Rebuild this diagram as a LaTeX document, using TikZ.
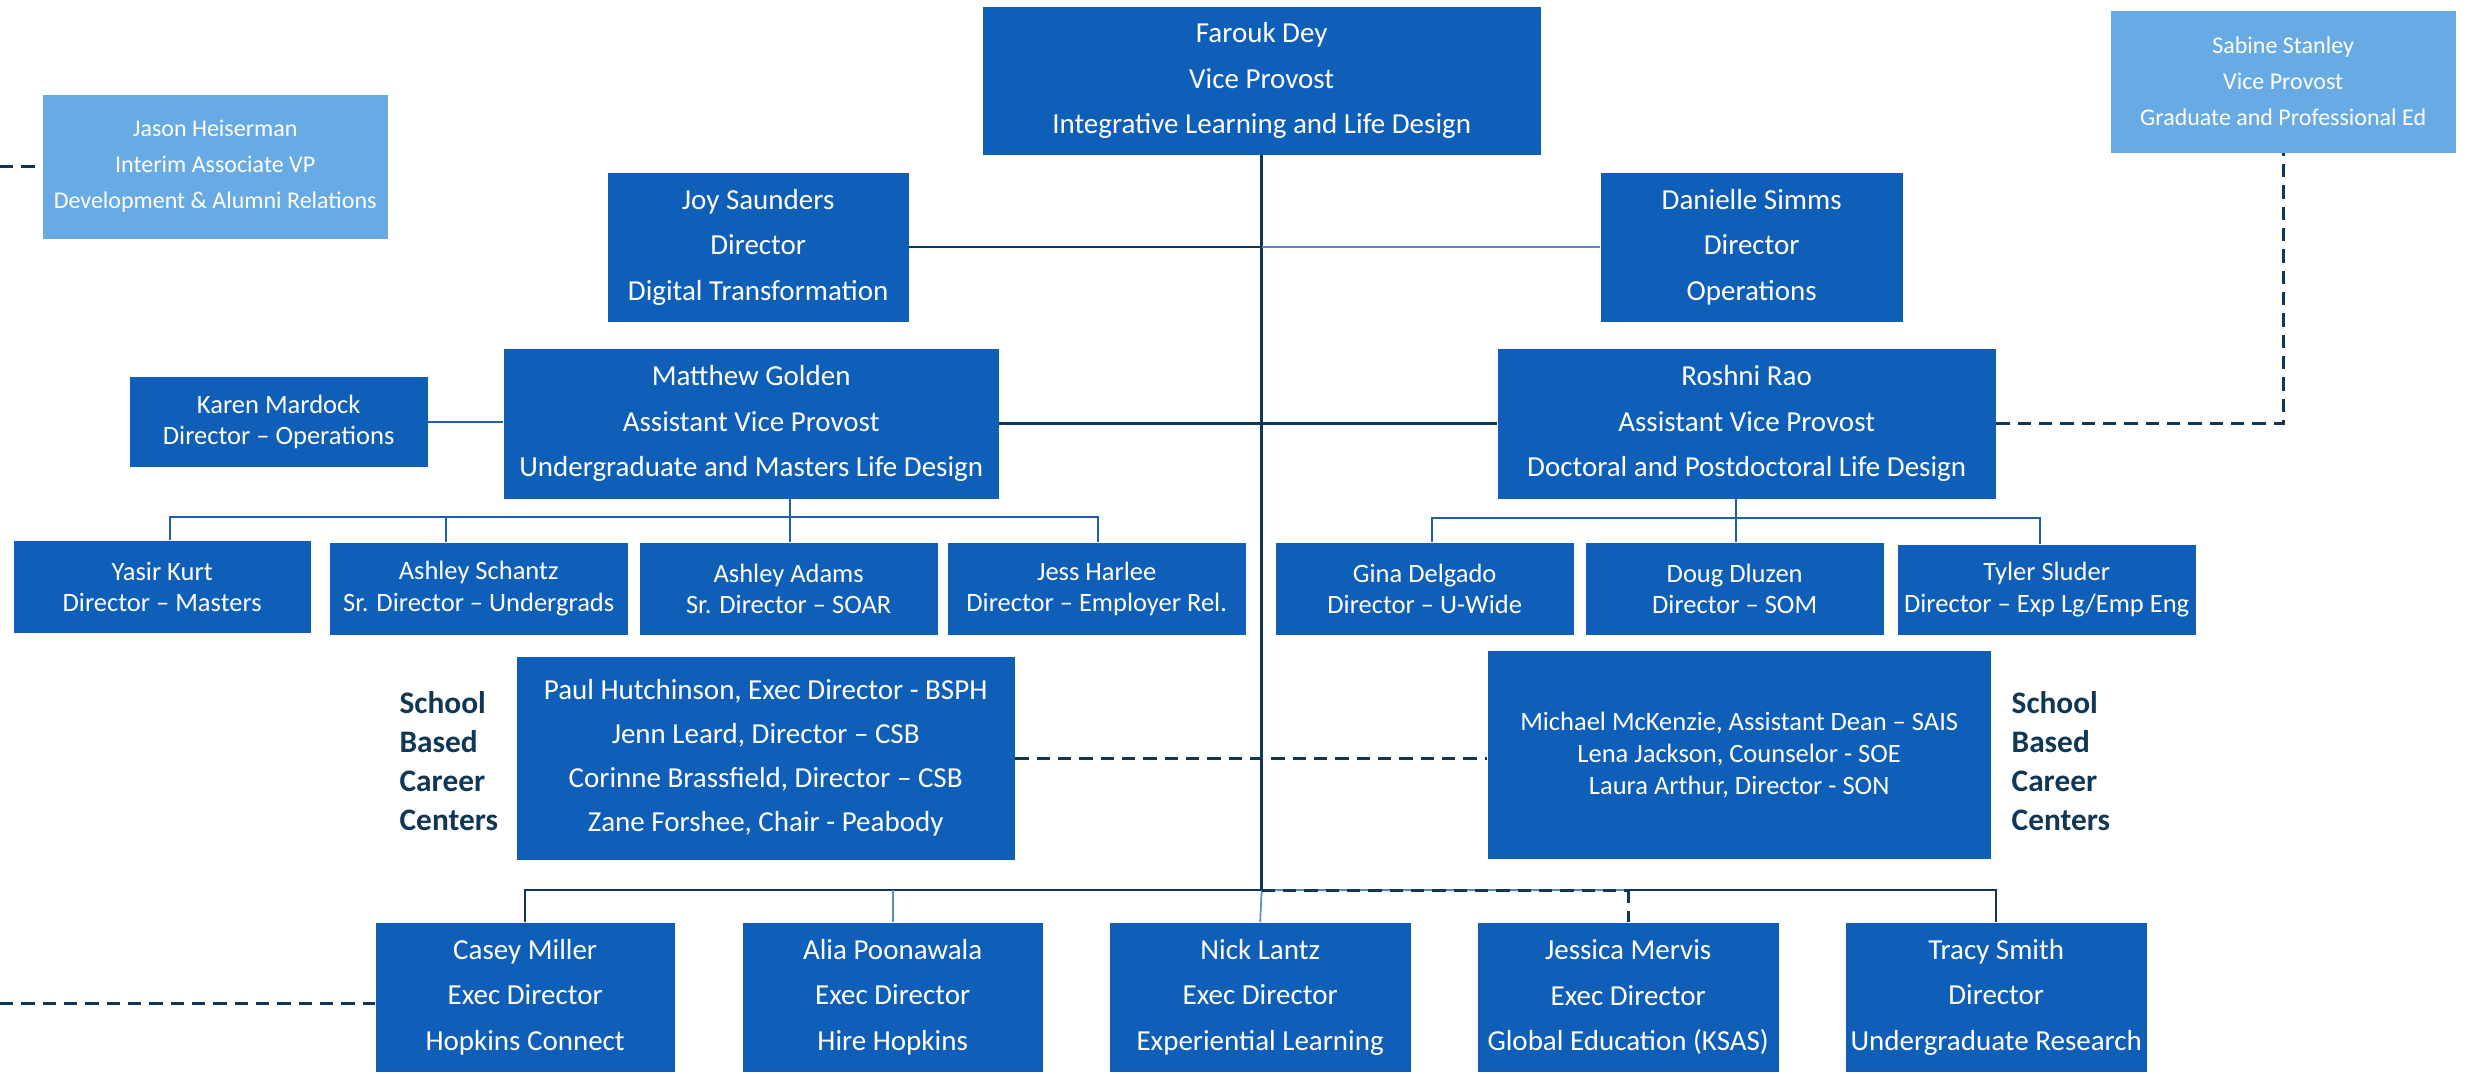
\documentclass[tikz,border=0pt]{standalone}
\usepackage{fontspec}
\setmainfont{Carlito}
\definecolor{boxblue}{RGB}{15,94,184}
\definecolor{lightblue}{RGB}{104,171,228}
\definecolor{navy}{RGB}{13,56,88}
\definecolor{bracketblue}{RGB}{31,95,175}
\definecolor{steel}{RGB}{84,140,196}
\definecolor{labelnavy}{RGB}{16,55,85}
\begin{document}
\begin{tikzpicture}[x=0.3pt,y=-0.3pt,
  box/.style={fill=boxblue,text=white,inner sep=0pt,align=center,anchor=north west},
  lightbox/.style={box,fill=lightblue},
  sz/.style 2 args={minimum width=#1*0.3pt,minimum height=#2*0.3pt},
  fA/.style={font=\fontsize{8.7}{13.6}\selectfont,execute at begin node={\rule{0pt}{8.4pt}}},
  fL/.style={font=\fontsize{8.7}{13.2}\selectfont,execute at begin node={\rule{0pt}{8.2pt}}},
  fB/.style={font=\fontsize{7.95}{9.4}\selectfont},
  fR/.style={font=\fontsize{7.95}{9.6}\selectfont},
  fC/.style={font=\fontsize{7.2}{10.8}\selectfont},
  lbl/.style={font=\fontsize{9.4}{11.7}\selectfont\bfseries,text=labelnavy,align=left,anchor=west,inner sep=0pt},
  main/.style={draw=navy,line width=0.75pt},
  br/.style={draw=bracketblue,line width=0.65pt},
  thinblue/.style={draw=steel,line width=0.5pt},
  dsh/.style={draw=navy,line width=0.9pt,dash pattern=on 4pt off 2.4pt}
]
\useasboundingbox (0,0) rectangle (2471,1074);

% top level
\node[box,fA,sz={558}{148}] (farouk) at (982,6) {Farouk Dey\\Vice Provost\\Integrative Learning and Life Design};
\node[lightbox,fC,sz={345}{142}] (sabine) at (2110,10) {Sabine Stanley\\Vice Provost\\Graduate and Professional Ed};
\node[lightbox,fC,sz={345}{144}] (jason) at (42,94) {Jason Heiserman\\Interim Associate VP\\Development \& Alumni Relations};
\node[box,fA,sz={301}{149}] (joy) at (607,172) {Joy Saunders\\Director\\Digital Transformation};
\node[box,fA,sz={302}{149}] (danielle) at (1600,172) {Danielle Simms\\Director\\Operations};
\node[box,fA,sz={495}{150}] (matthew) at (503,348) {Matthew Golden\\Assistant Vice Provost\\Undergraduate and Masters Life Design};
\node[box,fA,sz={498}{150}] (roshni) at (1497,348) {Roshni Rao\\Assistant Vice Provost\\Doctoral and Postdoctoral Life Design};
\node[box,fB,sz={298}{90}] (karen) at (129,376) {Karen Mardock\\Director – Operations};

% third row
\node[box,fB,sz={297}{92}] (yasir) at (13,540) {Yasir Kurt\\Director – Masters};
\node[box,fB,sz={298}{92}] (schantz) at (329,542) {Ashley Schantz\\Sr. Director – Undergrads};
\node[box,fB,sz={298}{92}] (adams) at (639,542) {Ashley Adams\\Sr. Director – SOAR};
\node[box,fB,sz={298}{92}] (harlee) at (947,542) {Jess Harlee\\Director – Employer Rel.};
\node[box,fB,sz={298}{92}] (gina) at (1275,542) {Gina Delgado\\Director – U-Wide};
\node[box,fB,sz={298}{92}] (doug) at (1585,542) {Doug Dluzen\\Director – SOM};
\node[box,fB,sz={298}{90}] (tyler) at (1897,544) {Tyler Sluder\\Director – Exp Lg/Emp Eng};

% school based
\node[box,fL,sz={498}{203}] (lsc) at (516,656) {Paul Hutchinson, Exec Director - BSPH\\Jenn Leard, Director – CSB\\Corinne Brassfield, Director – CSB\\Zane Forshee, Chair - Peabody};
\node[box,fR,sz={503}{208}] (rsc) at (1487,650) {Michael McKenzie, Assistant Dean – SAIS\\Lena Jackson, Counselor - SOE\\Laura Arthur, Director - SON};
\node[lbl] (llbl) at (399,761) {School\\Based\\Career\\Centers};
\node[lbl] (rlbl) at (2011,761) {School\\Based\\Career\\Centers};

% bottom row
\node[box,fA,sz={299}{149}] (casey) at (375,922) {Casey Miller\\Exec Director\\Hopkins Connect};
\node[box,fA,sz={300}{149}] (alia) at (742,922) {Alia Poonawala\\Exec Director\\Hire Hopkins};
\node[box,fA,sz={301}{149}] (nick) at (1109,922) {Nick Lantz\\Exec Director\\Experiential Learning};
\node[box,fA,sz={301}{149}] (jessica) at (1477,922) {Jessica Mervis\\Exec Director\\Global Education (KSAS)};
\node[box,fA,sz={301}{149}] (tracy) at (1845,922) {Tracy Smith\\Director\\Undergraduate Research};

% coordinates
\coordinate (bbL) at (524,890);
\coordinate (bbV) at (farouk.south |- bbL);
\coordinate (mb) at (790,517);
\coordinate (mbL) at (170,517);
\coordinate (mbR) at (1098,517);
\coordinate (mbS) at (446,517);
\coordinate (rb) at (1736,518);
\coordinate (rbL) at (1432,518);
\coordinate (rbR) at (2040,518);
\coordinate (jl) at (0,166);
\coordinate (cl) at (0,1003);

% main spine
\draw[main] (farouk.south) -- (bbV);
\draw[thinblue] (bbV) -- (nick.north);
\draw[main] (joy.east) -- (joy.east -| bbV);
\draw[steel,line width=0.75pt] (joy.east -| bbV) -- (danielle.west);
\draw[main] (matthew.east) -- (roshni.west);
\draw[br] (karen.east) -- (karen.east -| matthew.west);
\draw[dsh] (roshni.east) -| (sabine.south);
\draw[dsh] (jl) -- (jl -| jason.west);

% Matthew bracket
\draw[br] (mb |- matthew.south) -- (mb) -- (mb |- adams.north);
\draw[br] (mbL |- yasir.north) -- (mbL) -- (mbR) -- (mbR |- harlee.north);
\draw[br] (mbS) -- (mbS |- schantz.north);

% Roshni bracket
\draw[br] (rb |- roshni.south) -- (rb) -- (rb |- doug.north);
\draw[br] (rbL |- gina.north) -- (rbL) -- (rbR) -- (rbR |- tyler.north);

% school dashed
\draw[dsh] (lsc.east) -- (lsc.east -| rsc.west);

% bottom bar
\draw[main] (casey.north) -- (casey.north |- bbL) -- (bbV);
\draw[thinblue] (alia.north) -- (alia.north |- bbL);
\draw[thinblue] (bbV) -- (jessica.north |- bbL);
\draw[dsh] (bbV) -- (jessica.north |- bbL);
\draw[dsh] (jessica.north |- bbL) -- (jessica.north);
\draw[main] (jessica.north |- bbL) -- (tracy.north |- bbL) -- (tracy.north);
\draw[dsh] (cl) -- (cl -| casey.west);
\end{tikzpicture}
\end{document}
